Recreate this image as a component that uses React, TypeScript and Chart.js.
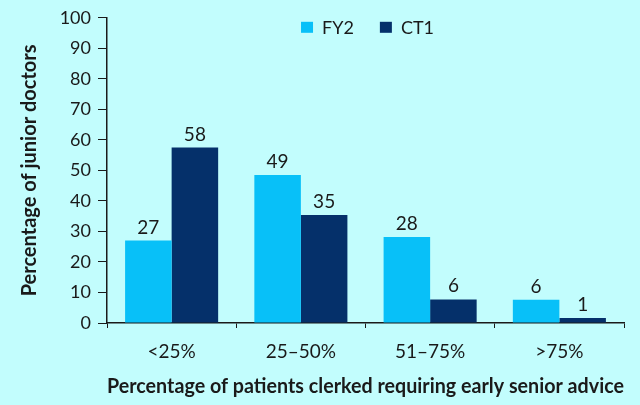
import React, { useEffect, useRef } from "react";
import { Chart, registerables } from "chart.js";

Chart.register(...registerables);

const categories = ["<25%", "25\u201350%", "51\u201375%", ">75%"];
const seriesNames = ["FY2", "CT1"];
// bar heights as drawn in the picture
const fy2Values = [27, 48.5, 28.2, 7.6];
const ct1Values = [57.5, 35.4, 7.7, 1.6];
// printed labels above bars
const fy2Labels = ["27", "49", "28", "6"];
const ct1Labels = ["58", "35", "6", "1"];
const yTicksMax = 100;
const yTickStep = 10;
const xTitle = "Percentage of patients clerked requiring early senior advice";
const yTitle = "Percentage of junior doctors";

const FONT = "Lato, 'Open Sans', sans-serif";
const TEXT = "#1a1a1a";
const BG = "#c2fdfd";
const C_FY2 = "#08c0f8";
const C_CT1 = "#05306a";

const labelPlugin = {
  id: "barLabels",
  afterDatasetsDraw(chart: any) {
    const ctx = chart.ctx;
    const labelSets = [fy2Labels, ct1Labels];
    ctx.save();
    ctx.font = `19px ${FONT}`;
    ctx.fillStyle = TEXT;
    ctx.textAlign = "center";
    ctx.textBaseline = "alphabetic";
    chart.data.datasets.forEach((ds: any, di: number) => {
      const meta = chart.getDatasetMeta(di);
      meta.data.forEach((bar: any, i: number) => {
        ctx.fillText(labelSets[di][i], bar.x, bar.y - 7);
      });
    });
    ctx.restore();
  },
};

const legendPlugin = {
  id: "customLegend",
  afterDraw(chart: any) {
    const ctx = chart.ctx;
    const area = chart.chartArea;
    ctx.save();
    ctx.font = `18px ${FONT}`;
    const box = 12;
    const gap = 9;
    const itemGap = 26;
    const items = chart.data.datasets.map((ds: any) => ({
      text: ds.label,
      color: ds.backgroundColor,
      w: ctx.measureText(ds.label).width,
    }));
    let total = 0;
    items.forEach((it: any, i: number) => {
      total += box + gap + it.w + (i < items.length - 1 ? itemGap : 0);
    });
    let x = (area.left + area.right) / 2 - total / 2 + 2;
    const cy = area.top + 9;
    ctx.textBaseline = "middle";
    ctx.textAlign = "left";
    items.forEach((it: any) => {
      ctx.fillStyle = it.color;
      ctx.fillRect(x, cy - 5, box, 11);
      ctx.fillStyle = TEXT;
      ctx.fillText(it.text, x + box + gap, cy + 1);
      x += box + gap + it.w + itemGap;
    });
    ctx.restore();
  },
};

export default function App() {
  const ref = useRef<HTMLCanvasElement | null>(null);
  useEffect(() => {
    if (!ref.current) return;
    const chart = new Chart(ref.current, {
      type: "bar",
      data: {
        labels: categories,
        datasets: [
          { label: seriesNames[0], data: fy2Values, backgroundColor: C_FY2, borderWidth: 0 },
          { label: seriesNames[1], data: ct1Values, backgroundColor: C_CT1, borderWidth: 0 },
        ],
      },
      options: {
        animation: false,
        responsive: true,
        maintainAspectRatio: false,
        datasets: { bar: { barPercentage: 1, categoryPercentage: 0.72 } },
        layout: { padding: { left: 14, right: 16, top: 15, bottom: 2 } },
        plugins: { legend: { display: false }, tooltip: { enabled: false } },
        scales: {
          x: {
            grid: { drawOnChartArea: false, drawTicks: true, tickLength: 5, color: TEXT, offset: true },
            border: { color: TEXT, width: 1.5 },
            ticks: { color: TEXT, font: { family: FONT, size: 19 }, padding: 12 },
            title: { display: true, text: xTitle, color: TEXT, font: { family: FONT, size: 20, weight: "bold" } },
            afterFit(scale: any) {
              scale.height = 405 - 323 - 2;
            },
          },
          y: {
            min: 0,
            max: yTicksMax,
            grid: { drawOnChartArea: false, drawTicks: true, tickLength: 9, color: TEXT },
            border: { color: TEXT, width: 1.5 },
            ticks: { stepSize: yTickStep, color: TEXT, font: { family: FONT, size: 18 }, padding: 7 },
            title: { display: true, text: yTitle, color: TEXT, font: { family: FONT, size: 20, weight: "bold" } },
            afterFit(scale: any) {
              scale.width = 107 - 14;
            },
          },
        },
      },
      plugins: [labelPlugin, legendPlugin],
    });
    return () => chart.destroy();
  }, []);
  return (
    <div style={{ position: "fixed", left: 0, top: 0, width: 640, height: 405, background: BG }}>
      <canvas ref={ref} />
    </div>
  );
}
